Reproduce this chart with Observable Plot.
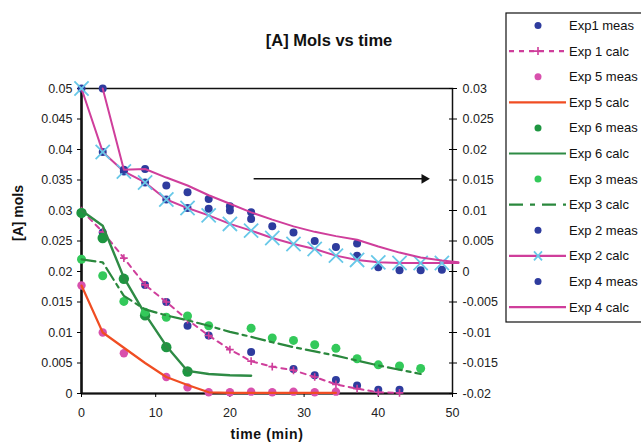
<!DOCTYPE html>
<html><head><meta charset="utf-8">
<script src="https://cdn.jsdelivr.net/npm/d3@7"></script>
<script src="https://cdn.jsdelivr.net/npm/@observablehq/plot@0.6"></script>
<style>
body{margin:0;background:#fff;}
svg{font-family:"Liberation Sans",Arial,sans-serif;}
</style>
</head><body><div id="chart"></div>
<script>
// ---------- data (time in min, [A] in mols) ----------
const chartTitle = "[A] Mols vs time";
const xLabel = "time (min)";
const yLabel = "[A] mols";
const xTicks = [0, 10, 20, 30, 40, 50];
const leftTicks = [0, 0.005, 0.01, 0.015, 0.02, 0.025, 0.03, 0.035, 0.04, 0.045, 0.05];
const leftTickLabels = ["0","0.005","0.01","0.015","0.02","0.025","0.03","0.035","0.04","0.045","0.05"];
const rightTicks = [-0.02, -0.015, -0.01, -0.005, 0, 0.005, 0.01, 0.015, 0.02, 0.025, 0.03];
const rightTickLabels = ["-0.02","-0.015","-0.01","-0.005","0","0.005","0.01","0.015","0.02","0.025","0.03"];
const RIGHT_OFFSET = 0.02; // right axis value + offset = left axis value

// Exp 1 (left axis)
const exp1MeasT = [2.86, 8.57, 11.43, 14.29, 17.14, 22.86, 28.57, 31.43, 34.29, 37.14, 40, 42.86];
const exp1Meas  = [0.0264, 0.0178, 0.0150, 0.0111, 0.0095, 0.0068, 0.0040, 0.0030, 0.0022, 0.0013, 0.0006, 0.0006];
const exp1CalcT = [0, 2.86, 5.71, 8.57, 11.43, 14.29, 17.14, 20, 22.86, 25.71, 28.57, 31.43, 34.29, 37.14, 40, 42.86];
const exp1Calc  = [0.0300, 0.0265, 0.0222, 0.0178, 0.0150, 0.0121, 0.0095, 0.0072, 0.0053, 0.0044, 0.0038, 0.0027, 0.0015, 0.0008, 0.0002, 0.0001];
// Exp 5 (left axis)
const exp5MeasT = [0, 2.86, 5.71, 11.43, 14.29, 17.14, 20, 22.86, 25.71, 28.57, 31.43, 34.29];
const exp5Meas  = [0.0177, 0.0100, 0.0066, 0.0027, 0.0010, 0.0002, 0.0002, 0.0003, 0.0002, 0.0003, 0.0002, 0.0003];
const exp5CalcT = [0, 2.86, 5.71, 8.57, 11.43, 14.29, 17.14, 20, 22.86, 25.71, 28.57, 31.43, 34.29];
const exp5Calc  = [0.0177, 0.0100, 0.0075, 0.0050, 0.0027, 0.0014, 0.0002, 0.0001, 0.0001, 0.0001, 0.0001, 0.0001, 0.0001];
// Exp 6 (left axis)
const exp6MeasT = [0, 2.86, 5.71, 8.57, 11.43, 14.29];
const exp6Meas  = [0.0296, 0.0255, 0.0188, 0.0128, 0.0076, 0.0036];
const exp6CalcT = [0, 2.86, 5.71, 8.57, 11.43, 14.29, 17.14, 20, 22.86];
const exp6Calc  = [0.0300, 0.0275, 0.0190, 0.0130, 0.0078, 0.0037, 0.0032, 0.0030, 0.0029];
// Exp 3 (left axis)
const exp3MeasT = [0, 2.86, 5.71, 8.57, 11.43, 14.29, 17.14, 22.86, 25.71, 28.57, 31.43, 34.29, 37.14, 40, 42.86, 45.71];
const exp3Meas  = [0.0220, 0.0193, 0.0151, 0.0133, 0.0125, 0.0127, 0.0111, 0.0107, 0.0091, 0.0087, 0.0080, 0.0074, 0.0057, 0.0047, 0.0045, 0.0041];
const exp3CalcT = [0, 2.86, 5.71, 8.57, 11.43, 14.29, 17.14, 20, 22.86, 25.71, 28.57, 31.43, 34.29, 37.14, 40, 42.86, 45.71];
const exp3Calc  = [0.0220, 0.0215, 0.0160, 0.0138, 0.0128, 0.0120, 0.0111, 0.0101, 0.0093, 0.0084, 0.0076, 0.0069, 0.0062, 0.0054, 0.0046, 0.0039, 0.0032];
// Exp 2 (right axis)
const exp2MeasT = [0, 2.86, 5.71, 8.57, 11.43, 14.29, 17.14, 20, 22.86, 37.14, 40, 42.86, 45.71, 48.57];
const exp2Meas  = [0.0300, 0.0196, 0.0164, 0.0146, 0.0118, 0.0104, 0.0103, 0.0100, 0.0086, 0.0026, 0.0007, 0.0002, 0.0002, 0.0003];
const exp2CalcT = [0, 2.86, 5.71, 8.57, 11.43, 14.29, 17.14, 20, 22.86, 25.71, 28.57, 31.43, 34.29, 37.14, 40, 42.86, 45.71, 48.57, 50.8];
const exp2Calc  = [0.0300, 0.0196, 0.0164, 0.0146, 0.0118, 0.0104, 0.0092, 0.0078, 0.0067, 0.0055, 0.0045, 0.0037, 0.0026, 0.0019, 0.0015, 0.0014, 0.0014, 0.0014, 0.0014];
// Exp 4 (right axis)
const exp4MeasT = [2.86, 5.71, 8.57, 11.43, 14.29, 17.14, 20, 22.86, 25.71, 28.57, 31.43, 34.29, 37.14];
const exp4Meas  = [0.0300, 0.0167, 0.0168, 0.0141, 0.0130, 0.0119, 0.0107, 0.0097, 0.0074, 0.0064, 0.0050, 0.0040, 0.0046];
const exp4CalcT = [2.86, 5.71, 8.57, 11.43, 14.29, 17.14, 20, 22.86, 25.71, 28.57, 31.43, 34.29, 37.14, 40, 42.86, 45.71, 48.57, 50.8];
const exp4Calc  = [0.0300, 0.0167, 0.0168, 0.0154, 0.0141, 0.0125, 0.0111, 0.0097, 0.0085, 0.0074, 0.0065, 0.0058, 0.0052, 0.0041, 0.0031, 0.0023, 0.0018, 0.0015];
// arrow annotation pointing to the right axis (time, right-axis value)
const arrowFrom = {t: 23.2, v: 0.0152};
const arrowTo   = {t: 46.2, v: 0.0152};

// ---------- helpers ----------
const rows = (ts, vs, off = 0) => ts.map((t, i) => ({t, v: vs[i] + off}));
const C = {
  blue: "#2e3c9e", pinkDot: "#d850ad", magenta: "#cf3e9b", orange: "#f04d22",
  green6: "#1e9641", green6line: "#2e8b45", green3: "#33c95a", green3line: "#2a883d", xblue: "#67c8e8"
};

const marks = [
  // frame and axes
  Plot.frame({stroke: "#111", strokeWidth: 1.5}),
  Plot.ruleX([0], {stroke: "#111", strokeWidth: 2.5}),
  Plot.ruleY([0], {stroke: "#111", strokeWidth: 2}),
  Plot.axisY(leftTicks, {anchor: "left", tickSize: 4, tickPadding: 5, label: null,
    tickFormat: d => leftTickLabels[leftTicks.indexOf(d)], fontSize: 12.5, fill: "#222"}),
  Plot.axisY(rightTicks.map(d => d + RIGHT_OFFSET), {anchor: "right", tickSize: 8, dx: -4, text: null, label: null}),
  Plot.axisY(rightTicks.map(d => d + RIGHT_OFFSET), {anchor: "right", tickSize: 0, tickPadding: 10, label: null,
    tickFormat: (d) => rightTickLabels[rightTicks.map(r => r + RIGHT_OFFSET).indexOf(d)], fontSize: 12.5, fill: "#222"}),
  Plot.axisX(xTicks, {anchor: "bottom", tickSize: 4, tickPadding: 11, label: null, fontSize: 12.5, fill: "#222"}),

  // Exp1 meas
  Plot.dot(rows(exp1MeasT, exp1Meas), {x: "t", y: "v", r: 4, fill: C.blue}),
  // Exp 1 calc
  Plot.line(rows(exp1CalcT, exp1Calc), {x: "t", y: "v", stroke: C.magenta, strokeWidth: 2, strokeDasharray: "5,5"}),
  Plot.dot(rows(exp1CalcT, exp1Calc), {x: "t", y: "v", symbol: "plus", r: 2.6, stroke: C.magenta, strokeWidth: 1.6}),
  // Exp 5 meas
  Plot.dot(rows(exp5MeasT, exp5Meas), {x: "t", y: "v", r: 4.2, fill: C.pinkDot}),
  // Exp 5 calc
  Plot.line(rows(exp5CalcT, exp5Calc), {x: "t", y: "v", stroke: C.orange, strokeWidth: 2.2}),
  // Exp 6 meas
  Plot.dot(rows(exp6MeasT, exp6Meas), {x: "t", y: "v", r: 5.2, fill: C.green6}),
  // Exp 6 calc
  Plot.line(rows(exp6CalcT, exp6Calc), {x: "t", y: "v", stroke: C.green6line, strokeWidth: 2.4}),
  // Exp 3 meas
  Plot.dot(rows(exp3MeasT, exp3Meas), {x: "t", y: "v", r: 4.5, fill: C.green3}),
  // Exp 3 calc
  Plot.line(rows(exp3CalcT, exp3Calc), {x: "t", y: "v", stroke: C.green3line, strokeWidth: 2.2, strokeDasharray: "14,5,4,5"}),
  // Exp 2 meas (right axis)
  Plot.dot(rows(exp2MeasT, exp2Meas, RIGHT_OFFSET), {x: "t", y: "v", r: 4, fill: C.blue}),
  // Exp 2 calc (right axis)
  Plot.line(rows(exp2CalcT, exp2Calc, RIGHT_OFFSET), {x: "t", y: "v", stroke: C.magenta, strokeWidth: 2}),
  Plot.dot(rows(exp2CalcT.slice(0, -1), exp2Calc.slice(0, -1), RIGHT_OFFSET), {x: "t", y: "v", symbol: "times", r: 6.5, stroke: C.xblue, strokeWidth: 1.8}),
  // Exp 4 meas (right axis)
  Plot.dot(rows(exp4MeasT, exp4Meas, RIGHT_OFFSET), {x: "t", y: "v", r: 4, fill: C.blue}),
  // Exp 4 calc (right axis)
  Plot.line(rows(exp4CalcT, exp4Calc, RIGHT_OFFSET), {x: "t", y: "v", stroke: C.magenta, strokeWidth: 2}),

  // arrow
  Plot.link([{}], {x1: () => arrowFrom.t, y1: () => arrowFrom.v + RIGHT_OFFSET, x2: () => arrowTo.t, y2: () => arrowTo.v + RIGHT_OFFSET, stroke: "#111", strokeWidth: 1.6}),
  Plot.dot([arrowTo], {x: "t", y: d => d.v + RIGHT_OFFSET, symbol: "triangle", rotate: 90, r: 3.6, fill: "#111"}),

  // titles
  Plot.text([chartTitle], {text: d => d, frameAnchor: "top", dx: 62, dy: -54, fontWeight: "bold", fontSize: 16.5, fill: "#111"}),
  Plot.text([xLabel], {text: d => d, frameAnchor: "bottom", dy: 45, fontWeight: "bold", fontSize: 14, fill: "#111", style: "letter-spacing:0.6px"}),
  Plot.text([yLabel], {text: d => d, frameAnchor: "left", dx: -63, rotate: -90, fontWeight: "bold", fontSize: 14, fill: "#111"})
];

const svg = Plot.plot({
  width: 641, height: 445,
  marginLeft: 81, marginRight: 189, marginTop: 88, marginBottom: 52,
  style: {fontFamily: "Liberation Sans, Arial, sans-serif", fontSize: "12px", background: "#fff", overflow: "visible"},
  x: {domain: [0, 50]},
  y: {domain: [0, 0.05]},
  marks
});
document.getElementById("chart").appendChild(svg);
// x label letter spacing
d3.select(svg).selectAll("text").filter(function() { return this.textContent === xLabel; }).attr("letter-spacing", "0.6px");

// ---------- legend (drawn into the same svg) ----------
const legendItems = [
  {label: "Exp1 meas", kind: "dot", color: C.blue, r: 3.5},
  {label: "Exp 1 calc", kind: "line", color: C.magenta, dash: "5,5", marker: "plus"},
  {label: "Exp 5 meas", kind: "dot", color: C.pinkDot, r: 3.5},
  {label: "Exp 5 calc", kind: "line", color: C.orange},
  {label: "Exp 6 meas", kind: "dot", color: C.green6, r: 3.5},
  {label: "Exp 6 calc", kind: "line", color: C.green6line},
  {label: "Exp 3 meas", kind: "dot", color: C.green3, r: 3.5},
  {label: "Exp 3 calc", kind: "line", color: C.green3line, dash: "14,7,5,7"},
  {label: "Exp 2 meas", kind: "dot", color: C.blue, r: 3.5},
  {label: "Exp 2 calc", kind: "line", color: C.magenta, marker: "times"},
  {label: "Exp 4 meas", kind: "dot", color: C.blue, r: 3.5},
  {label: "Exp 4 calc", kind: "line", color: C.magenta}
];
const lg = d3.select(svg).append("g").attr("text-anchor", "start");
lg.append("rect").attr("x", 506).attr("y", 13).attr("width", 160).attr("height", 309)
  .attr("fill", "#fff").attr("stroke", "#111").attr("stroke-width", 1.2);
legendItems.forEach((it, i) => {
  const y = 25.5 + i * 25.6;
  const g = lg.append("g");
  if (it.kind === "dot") {
    g.append("circle").attr("cx", 538).attr("cy", y).attr("r", it.r).attr("fill", it.color);
  } else {
    g.append("line").attr("x1", 509).attr("x2", 566).attr("y1", y).attr("y2", y)
      .attr("stroke", it.color).attr("stroke-width", 2.2).attr("stroke-dasharray", it.dash || null);
    if (it.marker === "plus") {
      g.append("path").attr("d", `M${534},${y}h8M${538},${y-4}v8`).attr("stroke", it.color).attr("stroke-width", 1.6);
    }
    if (it.marker === "times") {
      g.append("path").attr("d", `M${534},${y-4.5}l8,9M${534},${y+4.5}l8,-9`).attr("stroke", C.xblue).attr("stroke-width", 1.8);
    }
  }
  g.append("text").attr("x", 569).attr("y", y).attr("dy", "0.35em").attr("text-anchor", "start")
    .attr("font-size", 13).attr("fill", "#111").text(it.label);
});
</script>
</body></html>
